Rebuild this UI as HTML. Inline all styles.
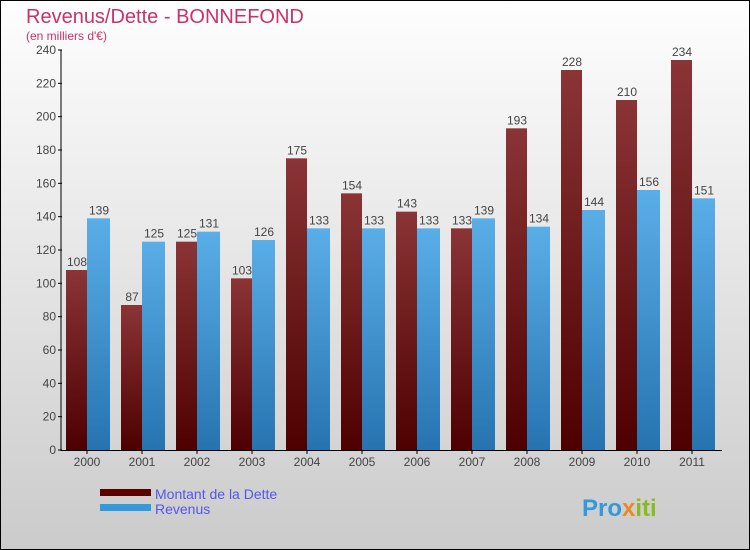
<!DOCTYPE html>
<html><head><meta charset="utf-8"><style>
body{margin:0;width:750px;height:550px;overflow:hidden;font-family:"Liberation Sans",sans-serif}
svg{display:block}
</style></head><body>
<svg width="750" height="550">
<defs>
<linearGradient id="bg" x1="0" y1="0" x2="0" y2="1"><stop offset="0" stop-color="#fefefe"/><stop offset="1" stop-color="#cbcbcb"/></linearGradient>
<linearGradient id="gd" x1="0" y1="0" x2="0" y2="1"><stop offset="0" stop-color="#8a3436"/><stop offset="1" stop-color="#4e0000"/></linearGradient>
<linearGradient id="gr" x1="0" y1="0" x2="0" y2="1"><stop offset="0" stop-color="#5aaee8"/><stop offset="1" stop-color="#2673b0"/></linearGradient>
</defs>
<rect x="0.5" y="0.5" width="749" height="549" fill="url(#bg)" stroke="#000"/>
<text x="26" y="23" font-size="20" fill="#c8336a">Revenus/Dette - BONNEFOND</text>
<text x="26" y="40" font-size="12" fill="#c8336a">(en milliers d'€)</text>
<g id="plot"></g>
<rect x="100" y="489" width="51" height="7" fill="#5a0000"/>
<text x="155" y="499" font-size="14" fill="#5555ee">Montant de la Dette</text>
<rect x="100" y="504" width="51" height="7" fill="#3399dd"/>
<text x="155" y="514" font-size="14" fill="#5555ee">Revenus</text>
<text x="582" y="516" font-size="24" font-weight="bold" fill="#3399dd">Pro<tspan fill="#ee8822">x</tspan><tspan fill="#88bb22">iti</tspan></text>
</svg>
<script>
const years=["2000","2001","2002","2003","2004","2005","2006","2007","2008","2009","2010","2011"];
const dette=[108,87,125,103,175,154,143,133,193,228,210,234];
const revenus=[139,125,131,126,133,133,133,139,134,144,156,151];
const yTicks=[0,20,40,60,80,100,120,140,160,180,200,220,240];
const NS="http://www.w3.org/2000/svg";
const g=document.getElementById('plot');
const y=v=>450-v*400/240;
const xc=i=>87+55*i;
function mk(t,a){const e=document.createElementNS(NS,t);for(const k in a)e.setAttribute(k,a[k]);g.appendChild(e);return e;}
yTicks.forEach(v=>{
 const l=mk('line',{x1:58,x2:62,y1:y(v),y2:y(v),stroke:'#000'});
 
 
 const t=mk('text',{x:56,y:y(v)+4,'font-size':12,'text-anchor':'end',fill:'#444'});t.textContent=v;
 
 
});
years.forEach((yr,i)=>{
 const c=xc(i);
 const b1=mk('rect',{x:c-21,y:y(dette[i]),width:21,height:450-y(dette[i]),fill:'url(#gd)'});
 
 
 const b2=mk('rect',{x:c,y:y(revenus[i]),width:23,height:450-y(revenus[i]),fill:'url(#gr)'});
 
 
 const t1=mk('text',{x:c-10,y:y(dette[i])-4,'font-size':12,'text-anchor':'middle',fill:'#444'});t1.textContent=dette[i];
 
 
 const t2=mk('text',{x:c+12,y:y(revenus[i])-4,'font-size':12,'text-anchor':'middle',fill:'#444'});t2.textContent=revenus[i];
 
 
 const tk=mk('line',{x1:c,x2:c,y1:450,y2:454,stroke:'#000'});
 
 
 const xl=mk('text',{x:c,y:466,'font-size':12,'text-anchor':'middle',fill:'#444'});xl.textContent=yr;
 
 
});
const ax=mk('line',{x1:61,x2:61,y1:50,y2:451,stroke:'#000'});


const bx=mk('line',{x1:61,x2:722,y1:450.5,y2:450.5,stroke:'#000'});


</script>
</body></html>
